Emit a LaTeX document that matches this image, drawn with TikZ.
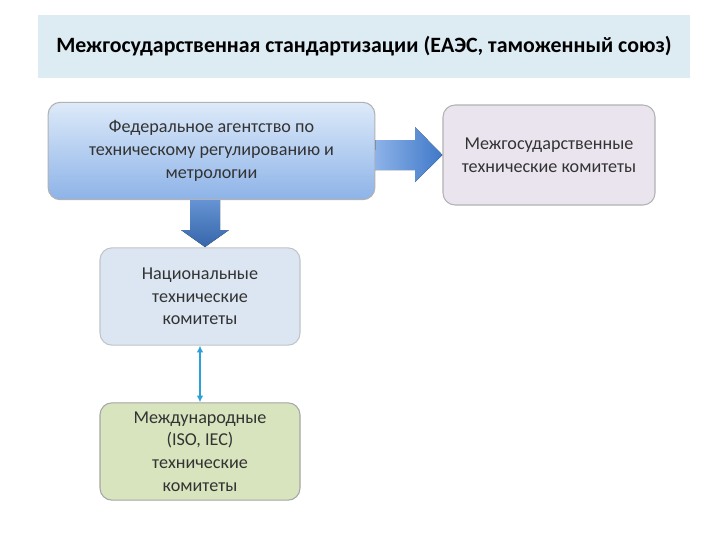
\documentclass[tikz,border=0pt]{standalone}
\usepackage{fontspec}
\setmainfont{Carlito}
\usetikzlibrary{arrows.meta}
\definecolor{band}{HTML}{DDEBF3}
\definecolor{bluetop}{HTML}{DDEAF9}
\definecolor{bluebot}{HTML}{8DB3E8}
\definecolor{lav}{HTML}{EAE4EF}
\definecolor{nat}{HTML}{DCE6F2}
\definecolor{intl}{HTML}{D7E4BD}
\definecolor{arr}{HTML}{3F78C8}
\definecolor{arrl}{HTML}{8DB3E8}
\tikzset{box/.style={draw=#1, rounded corners=9pt, line width=0.8pt, align=center, font=\fontsize{13.6}{17}\selectfont, text=black!80, inner sep=0pt}}
\begin{document}
\begin{tikzpicture}[x=0.75pt,y=-0.75pt]
\useasboundingbox (0,0) rectangle (720,540);
\fill[white] (0,0) rectangle (720,540);
\node[fill=band, minimum width=489pt, minimum height=47pt, font=\bfseries\fontsize{16.4}{19}\selectfont] (title) at (364,46.5) {Межгосударственная стандартизации (ЕАЭС, таможенный союз)};
\node[box=gray!60, top color=bluetop, bottom color=bluebot, minimum width=245pt, minimum height=73pt] (fed) at (211.5,151) {Федеральное агентство по\\техническому регулированию и\\метрологии};
\node[box=gray!60, fill=lav, minimum width=159pt, minimum height=75pt] (mg) at (549,155) {Межгосударственные\\технические комитеты};
\node[box=nat!60!black!50, fill=nat, minimum width=150pt, minimum height=73pt] (nat) at (200,296.5) {Национальные\\технические\\комитеты};
\node[box=gray!70, fill=intl, minimum width=150pt, minimum height=73pt] (int) at (200,451.5) {Международные\\(ISO, IEC)\\технические\\комитеты};
\fill[left color=arrl, right color=arr] (fed.east |- 0,140) -- (415,140) -- (415,127) -- (mg.west |- 0,155) -- (415,182) -- (415,170) -- (375,170) -- cycle;
\fill[top color=arr!80, bottom color=arr!85!black] (190,200) -- (220,200) -- (220,230) -- (229,230) -- (205,247) -- (181,230) -- (190,230) -- cycle;
\draw[{Latex[length=5pt,width=5pt]}-{Latex[length=5pt,width=5pt]}, color=arr!70!cyan, line width=1.2pt] (nat.south) -- (int.north);
\end{tikzpicture}
\end{document}
